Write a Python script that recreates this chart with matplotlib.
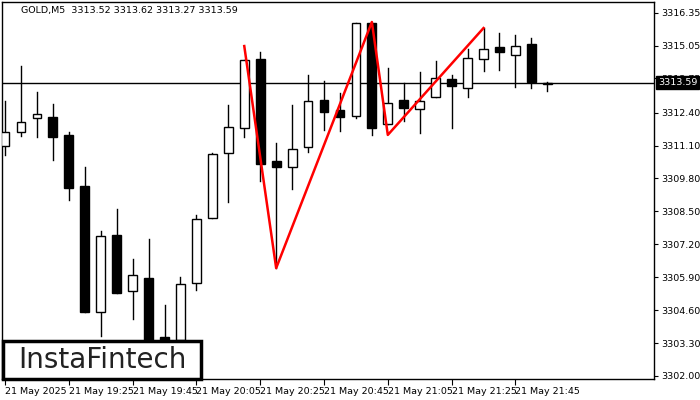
import matplotlib
matplotlib.use("Agg")
import matplotlib.pyplot as plt
from matplotlib.patches import Rectangle

# OHLC of GOLD M5 candles, 21 May 2025 19:05 .. 21:55
opens = [3311.08, 3311.64, 3312.19, 3312.23, 3311.52, 3309.50, 3304.53, 3307.57, 3305.36, 3305.87,
         3303.54, 3303.42, 3305.67, 3308.24, 3310.81, 3311.79, 3314.52, 3310.49, 3310.25, 3311.04,
         3312.90, 3312.50, 3312.27, 3315.94, 3311.95, 3312.90, 3312.54, 3313.02, 3313.73, 3313.37,
         3314.52, 3314.99, 3314.68, 3315.11, 3313.52]
highs = [3312.86, 3314.24, 3313.22, 3312.74, 3311.64, 3310.25, 3307.73, 3308.59, 3306.62, 3307.41,
         3304.80, 3305.91, 3308.36, 3310.81, 3312.70, 3314.48, 3314.80, 3311.20, 3312.70, 3313.89,
         3313.65, 3313.18, 3315.94, 3315.94, 3314.16, 3313.57, 3314.01, 3314.44, 3313.89, 3314.91,
         3315.74, 3315.55, 3315.47, 3315.35, 3313.62]
lows = [3310.73, 3311.48, 3311.44, 3310.53, 3308.95, 3304.53, 3303.58, 3305.28, 3304.25, 3302.83,
        3302.95, 3303.22, 3305.39, 3308.24, 3308.87, 3311.44, 3309.70, 3306.26, 3309.39, 3310.85,
        3311.72, 3311.67, 3312.19, 3311.52, 3311.95, 3312.07, 3311.60, 3313.02, 3311.79, 3313.02,
        3314.05, 3314.09, 3313.41, 3313.37, 3313.27]
closes = [3311.64, 3312.03, 3312.35, 3311.44, 3309.42, 3304.53, 3307.53, 3305.28, 3305.99, 3303.03,
          3303.22, 3305.63, 3308.20, 3310.77, 3311.83, 3314.48, 3310.37, 3310.25, 3310.96, 3312.86,
          3312.43, 3312.23, 3315.94, 3311.79, 3312.78, 3312.58, 3312.86, 3313.77, 3313.45, 3314.56,
          3314.91, 3314.80, 3315.03, 3313.61, 3313.59]
# pattern line (candle index, price)
pat_idx = [15, 17, 23, 24, 30]
pat_px = [3315.03, 3306.26, 3315.98, 3311.52, 3315.74]
last_price = 3313.59
yticks = [3316.35, 3315.05, 3313.75, 3312.40, 3311.10, 3309.80, 3308.50, 3307.20,
          3305.90, 3304.60, 3303.30, 3302.00]
xtick_idx = [0, 4, 8, 12, 16, 20, 24, 28, 32]
xtick_lab = ["21 May 2025", "21 May 19:25", "21 May 19:45", "21 May 20:05", "21 May 20:25",
             "21 May 20:45", "21 May 21:05", "21 May 21:25", "21 May 21:45"]

fig = plt.figure(figsize=(7, 4), dpi=100)
ax = fig.add_axes([2 / 700, 21 / 400, 652 / 700, 377 / 400])
w = 0.55
for i, (o, h, l, c) in enumerate(zip(opens, highs, lows, closes)):
    ax.plot([i, i], [l, h], color="black", lw=1, zorder=2)
    bull = c >= o
    ax.add_patch(Rectangle((i - w / 2, min(o, c)), w, max(abs(c - o), 0.04),
                           facecolor="white" if bull else "black",
                           edgecolor="black", lw=1, zorder=3))
ax.plot(pat_idx, pat_px, color="red", lw=1.8, zorder=4)
ax.axhline(last_price, color="black", lw=1, zorder=1)

ax.set_xlim(-0.19, 40.69)
ax.set_ylim(3301.88, 3316.77)
ax.yaxis.tick_right()
ax.set_yticks(yticks)
ax.set_yticklabels([f"{v:.2f}" for v in yticks], fontsize=6.8)
ax.set_xticks(xtick_idx)
ax.set_xticklabels(xtick_lab, fontsize=6.8, ha="left")
ax.tick_params(axis="x", length=4, pad=2)
ax.tick_params(axis="y", length=3, pad=2)
for s in ax.spines.values():
    s.set_linewidth(1)

ax.text(1, 3316.45, "GOLD,M5  3313.52 3313.62 3313.27 3313.59", fontsize=6.8, va="center")
ax.annotate(f"{last_price:.2f}", xy=(1.0, last_price), xycoords=("axes fraction", "data"),
            xytext=(3, 0), textcoords="offset points", va="center", ha="left", fontsize=6.8,
            color="white", zorder=10, annotation_clip=False,
            bbox=dict(boxstyle="square,pad=0.2", fc="black", ec="black"))

fig.patches.append(Rectangle((3 / 700, 21 / 400), 198 / 700, 38 / 400, transform=fig.transFigure,
                             facecolor="white", edgecolor="black", lw=2.5, zorder=10))
fig.text(102 / 700, 40 / 400, "InstaFintech", fontsize=20, ha="center", va="center",
         color="#222222", fontweight="medium", zorder=11)

fig.savefig("out.png", dpi=100)
